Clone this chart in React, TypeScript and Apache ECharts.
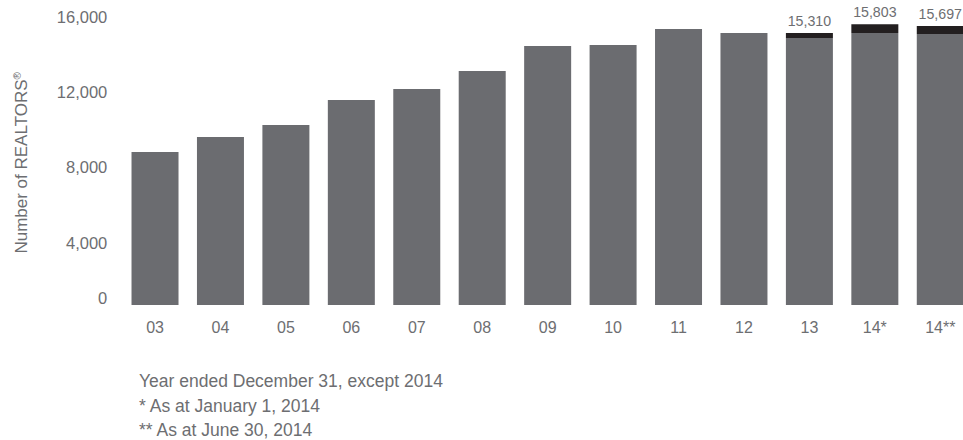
import React, { useEffect, useRef } from "react";
import * as echarts from "echarts";

const categories = ["03", "04", "05", "06", "07", "08", "09", "10", "11", "12", "13", "14*", "14**"];
const baseValues = [8610, 9450, 10130, 11540, 12160, 13170, 14580, 14630, 15530, 15310, 15025, 15307, 15250];
const extraValues: (number | null)[] = [null, null, null, null, null, null, null, null, null, null, 285, 496, 447];
const totalLabels: (string | null)[] = [null, null, null, null, null, null, null, null, null, null, "15,310", "15,803", "15,697"];
const yTicks = [0, 4000, 8000, 12000, 16000];
const footnotes = [
  "Year ended December 31, except 2014",
  "* As at January 1, 2014",
  "** As at June 30, 2014",
];

const GRAY = "#6b6c70";
const TEXT = "#6d6e71";
const DARK = "#231f20";
const FONT = "'Liberation Sans', Arial, Helvetica, sans-serif";

// small per-label nudges (the source artwork places some tick labels off the exact tick)
const labelStyleKey: Record<number, string> = { 0: "up7", 4000: "down9", 8000: "down4", 16000: "up4" };

export default function App() {
  const ref = useRef<HTMLDivElement>(null);
  useEffect(() => {
    if (!ref.current) return;
    const chart = echarts.init(ref.current, undefined, { renderer: "svg" });
    const base = { color: TEXT, fontSize: 16.5, fontFamily: FONT };
    chart.setOption({
      animation: false,
      textStyle: { fontFamily: FONT },
      grid: { left: 122.3, right: 0, top: 20.7, bottom: 135, containLabel: false },
      xAxis: {
        type: "category",
        data: categories,
        axisLine: { show: false },
        axisTick: { show: false },
        axisLabel: { color: TEXT, fontSize: 16, margin: 14, fontFamily: FONT },
      },
      yAxis: {
        type: "value",
        min: yTicks[0],
        max: yTicks[yTicks.length - 1],
        interval: 4000,
        splitLine: { show: false },
        axisLine: { show: false },
        axisTick: { show: false },
        axisLabel: {
          color: TEXT,
          fontSize: 16.5,
          margin: 15,
          fontFamily: FONT,
          formatter: (v: number) => {
            const s = v.toLocaleString("en-US");
            const k = labelStyleKey[v];
            return k ? `{${k}|${s}}` : s;
          },
          rich: {
            up7: { ...base, padding: [0, 0, 14, 0] },
            up4: { ...base, padding: [0, 0, 8, 0] },
            down9: { ...base, padding: [18, 0, 0, 0] },
            down4: { ...base, padding: [8, 0, 0, 0] },
          },
        },
        name: "Number of REALTORS{s|®}",
        nameLocation: "middle",
        nameRotate: 90,
        nameGap: 92,
        nameTextStyle: {
          color: TEXT,
          fontSize: 17,
          fontFamily: FONT,
          rich: { s: { fontSize: 10, color: TEXT, fontFamily: FONT, padding: [0, 0, 8, 0] } },
        },
      },
      series: [
        {
          type: "bar",
          stack: "total",
          data: baseValues,
          barWidth: 47,
          itemStyle: { color: GRAY },
        },
        {
          type: "bar",
          stack: "total",
          data: extraValues,
          barWidth: 47,
          itemStyle: { color: DARK },
          label: {
            show: true,
            position: "top",
            distance: 5,
            color: TEXT,
            fontSize: 14.2,
            fontFamily: FONT,
            formatter: (p: any) => totalLabels[p.dataIndex] ?? "",
          },
        },
      ],
      graphic: footnotes.map((t, i) => ({
        type: "text",
        left: 139,
        top: 372 + i * 24.5,
        style: { text: t, fill: TEXT, fontSize: 17.5, fontFamily: FONT },
      })),
    });
    return () => chart.dispose();
  }, []);
  return (
    <div style={{ position: "fixed", left: 0, top: 0, width: 963, height: 440, overflow: "hidden", background: "#fff" }}>
      <div ref={ref} style={{ width: 973, height: 440 }} />
    </div>
  );
}
